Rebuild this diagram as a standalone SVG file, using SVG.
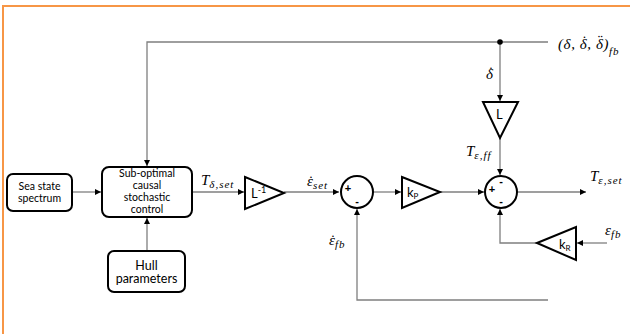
<svg xmlns="http://www.w3.org/2000/svg" width="630" height="334" viewBox="0 0 630 334">
<style>
.frame{fill:none;stroke:#f79646;stroke-width:2}
.box{fill:#fff;stroke:#000;stroke-width:2}
.wire{fill:none;stroke:#7f7f7f;stroke-width:1.3}
.bt{font-family:Lato,"Liberation Sans",sans-serif;font-size:10.5px;fill:#000;text-anchor:middle}
.ht{font-family:Lato,"Liberation Sans",sans-serif;font-size:12.5px;fill:#000;text-anchor:middle}
.gt{font-family:Lato,"Liberation Sans",sans-serif;font-size:13px;fill:#000}
.sg{font-family:"Liberation Sans",sans-serif;font-size:11px;font-weight:bold;fill:#000;text-anchor:middle}
.m{font-family:"Liberation Serif",serif;font-style:italic;font-size:15px;fill:#000}
.ms{font-size:11px;letter-spacing:1px}
</style>
<defs>
<marker id="ar" markerWidth="8" markerHeight="8" refX="6" refY="3" orient="auto" markerUnits="userSpaceOnUse">
<path d="M0,0 L6,3 L0,6 z" fill="#000"/>
</marker>
</defs>
<rect width="630" height="334" fill="#fff"/>
<path class="frame" d="M3,334 V6 H630"/>

<g id="connectors">
<path class="wire" d="M72,192 H101" marker-end="url(#ar)"/>
<path class="wire" d="M548,42 H147 V166" marker-end="url(#ar)"/>
<path class="wire" d="M147,251 V218" marker-end="url(#ar)"/>
<path class="wire" d="M192,192 H244" marker-end="url(#ar)"/>
<path class="wire" d="M284,192 H339" marker-end="url(#ar)"/>
<path class="wire" d="M373,192 H401" marker-end="url(#ar)"/>
<path class="wire" d="M440,192 H484" marker-end="url(#ar)"/>
<path class="wire" d="M500,42 V101" marker-end="url(#ar)"/>
<path class="wire" d="M500,138 V175" marker-end="url(#ar)"/>
<path class="wire" d="M517,192 H586" marker-end="url(#ar)"/>
<path class="wire" d="M607,243 H577" marker-end="url(#ar)"/>
<path class="wire" d="M537,243 H500 V209" marker-end="url(#ar)"/>
<path class="wire" d="M548,300 H357 V209" marker-end="url(#ar)"/>
<circle cx="500" cy="42" r="2.8" fill="#000"/>
</g>

<g id="sea-state">
<rect class="box" x="7" y="174" width="65" height="37" rx="6"/>
<text class="bt" x="39.5" y="190">Sea state</text>
<text class="bt" x="39.5" y="202">spectrum</text>
</g>

<g id="controller">
<rect class="box" x="102" y="167" width="90" height="50" rx="7"/>
<text class="bt" x="147" y="177">Sub-optimal</text>
<text class="bt" x="147" y="189">causal</text>
<text class="bt" x="147" y="201">stochastic</text>
<text class="bt" x="147" y="213">control</text>
</g>

<g id="hull">
<rect class="box" x="108" y="251" width="77" height="41" rx="6"/>
<text class="ht" x="146.5" y="270">Hull</text>
<text class="ht" x="146.5" y="283">parameters</text>
</g>

<g id="gain-Linv">
<polygon class="box" points="245,177 284,193 245,209"/>
<text class="gt" x="251" y="198">L<tspan font-size="9" dy="-5">-1</tspan></text>
</g>

<g id="sum1">
<circle class="box" cx="357" cy="192" r="16"/>
<text class="sg" x="348" y="192">+</text>
<text class="sg" x="357" y="205">-</text>
</g>

<g id="gain-kP">
<polygon class="box" points="402,177 440,192 402,208"/>
<text class="gt" x="407" y="197">k<tspan font-size="8" dy="2">P</tspan></text>
</g>

<g id="gain-L">
<polygon class="box" points="483,102 518,102 500,138"/>
<text class="gt" x="496" y="119">L</text>
</g>

<g id="sum2">
<circle class="box" cx="501" cy="192" r="16"/>
<text class="sg" x="492" y="193">+</text>
<text class="sg" x="501" y="185">-</text>
<text class="sg" x="501" y="205">-</text>
</g>

<g id="gain-kR">
<polygon class="box" points="537,243 576,227 576,260"/>
<text class="gt" x="559" y="249">k<tspan font-size="8" dy="2">R</tspan></text>
</g>

<g id="labels">
<text class="m" x="558" y="49" font-size="17" letter-spacing="0.6">(δ, δ<tspan dx="-6.5" dy="-3">˙</tspan><tspan dx="0.8" dy="3">, δ</tspan><tspan dx="-7" dy="-3">¨</tspan><tspan dx="1.2" dy="3">)</tspan><tspan class="ms" font-size="12" dy="6">fb</tspan></text>
<text class="m" x="486" y="79">δ<tspan dx="-5.5" dy="-2.5">˙</tspan></text>
<text class="m" x="201" y="185">T<tspan class="ms" dy="3">δ,set</tspan></text>
<text class="m" x="307" y="186">ε<tspan dx="-5.5" dy="0">˙</tspan><tspan class="ms" dx="0.5" dy="3">set</tspan></text>
<text class="m" x="466" y="156">T<tspan class="ms" dy="3">ε,ff</tspan></text>
<text class="m" x="590" y="181">T<tspan class="ms" dy="3">ε,set</tspan></text>
<text class="m" x="605" y="235">ε<tspan class="ms" dy="3">fb</tspan></text>
<text class="m" x="329" y="245">ε<tspan dx="-5.5" dy="0">˙</tspan><tspan class="ms" dx="0.5" dy="3">fb</tspan></text>
</g>
</svg>
